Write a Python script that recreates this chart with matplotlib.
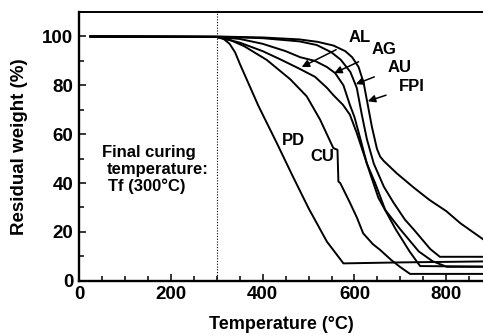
#!/usr/bin/env python3
"""TGA residual-weight curves for the polyimide films (Tf = 300 C)."""

import matplotlib

matplotlib.use("Agg")
import matplotlib.pyplot as plt
from matplotlib.ticker import MultipleLocator

OUTPUT = "out.png"

PD_T = [25, 300, 315, 328, 340, 351, 391, 431, 465, 500, 540, 576, 700, 880]
PD_W = [100, 99.8, 99, 97, 93.5, 88.5, 71.5, 56.3, 43, 29.7, 16, 7.1, 7.5, 7.9]

CU_T = [25, 300, 330, 360, 409, 460, 496, 525, 554, 563, 565, 569, 590, 605,
        619, 640, 656, 680, 699, 721, 880]
CU_W = [100, 99.8, 98.5, 96, 90.4, 82.5, 75.5, 66, 54.3, 53.6, 40.6, 40, 32,
        26, 19.4, 15, 12.6, 8.5, 5.7, 2.8, 2.8]

AL_T = [25, 300, 350, 400, 440, 478, 514, 540, 554, 575, 590, 605, 620, 634,
        652, 690, 720, 743, 880]
AL_W = [100, 99.8, 97.5, 94, 90.5, 87, 83.5, 79, 76, 72, 68, 60.5, 52, 44,
        34, 21, 12, 6, 5.8]

AG_T = [25, 300, 350, 400, 450, 482, 514, 540, 558, 576, 590, 600, 613, 627,
        645, 667, 700, 740, 770, 801, 880]
AG_W = [100, 99.8, 99, 97, 94, 91.5, 90, 87.5, 85, 80, 72, 67, 58, 48, 40,
        29, 21, 12, 8, 5.7, 5.7]

AU_T = [25, 300, 400, 480, 518, 550, 570, 591, 605, 616, 627, 642, 664, 685,
        710, 729, 765, 786, 880]
AU_W = [100, 99.9, 99.3, 98, 96.5, 93.5, 90.5, 85.5, 79, 68, 58, 48, 38.5,
        32, 25, 21, 13, 9.8, 9.8]

FPI_T = [25, 300, 400, 480, 520, 554, 580, 595, 609, 620, 627, 638, 649, 656,
         664, 692, 730, 764, 800, 831, 880]
FPI_W = [100, 100, 99.6, 98.8, 97.8, 96.3, 94, 91.5, 87.5, 81, 74, 63, 54,
         50.8, 49, 44, 38, 33, 28.5, 23.5, 17]

CURVES = [(PD_T, PD_W), (CU_T, CU_W), (AL_T, AL_W), (AG_T, AG_W),
          (AU_T, AU_W), (FPI_T, FPI_W)]

# label, text position, arrow tip
ARROWS = [
    ("AL", (612, 99.5), (485, 87.5)),
    ("AG", (664, 94.5), (556, 85)),
    ("AU", (698, 87.5), (603, 80.5)),
    ("FPI", (726, 79.5), (629, 73.5)),
]


def main() -> None:
    plt.rcParams.update({
        "font.family": "Liberation Sans",
        "font.weight": "bold",
        "axes.labelweight": "bold",
    })
    fig = plt.figure(figsize=(4.83, 3.35), dpi=100)
    ax = fig.add_axes([0.1636, 0.162, 0.8364, 0.802])

    for temps, weights in CURVES:
        ax.plot(temps, weights, color="black", lw=1.4, solid_joinstyle="round")

    ax.axvline(300, color="black", lw=0.8, linestyle=(0, (1, 1.5)))

    for label, text_pos, tip in ARROWS:
        ax.annotate(
            label, xy=tip, xytext=text_pos, fontsize=12, fontweight="bold",
            ha="center", va="center",
            arrowprops=dict(arrowstyle="-|>", color="black", lw=1.1,
                            mutation_scale=11, shrinkA=8, shrinkB=0),
        )

    ax.text(467, 57.5, "PD", fontsize=12, fontweight="bold",
            ha="center", va="center")
    ax.text(531, 51, "CU", fontsize=12, fontweight="bold",
            ha="center", va="center")
    ax.text(50, 52.5, "Final curing", fontsize=12, fontweight="bold",
            va="center")
    ax.text(61, 45.5, "temperature:", fontsize=12, fontweight="bold",
            va="center")
    ax.text(64, 38.5, "Tf (300\u00b0C)", fontsize=12, fontweight="bold",
            va="center")

    ax.set_xlim(0, 880)
    ax.set_ylim(0, 110)
    ax.xaxis.set_major_locator(MultipleLocator(200))
    ax.xaxis.set_minor_locator(MultipleLocator(50))
    ax.yaxis.set_major_locator(MultipleLocator(20))
    ax.yaxis.set_minor_locator(MultipleLocator(10))
    ax.tick_params(which="both", direction="in", top=False, right=False,
                   width=1.1)
    ax.tick_params(which="major", length=5, labelsize=13.5, pad=4)
    ax.tick_params(which="minor", length=3.5)
    for tick in ax.get_xticklabels() + ax.get_yticklabels():
        tick.set_fontweight("bold")

    ax.spines["right"].set_visible(False)
    ax.spines["left"].set_linewidth(1.7)
    ax.spines["bottom"].set_linewidth(1.7)
    ax.spines["top"].set_linewidth(1.4)

    ax.set_xlabel("Temperature (\u00b0C)", fontsize=13, labelpad=9)
    ax.set_ylabel("Residual weight (%)", fontsize=13.5, labelpad=10)

    fig.savefig(OUTPUT, dpi=100)


if __name__ == "__main__":
    main()
